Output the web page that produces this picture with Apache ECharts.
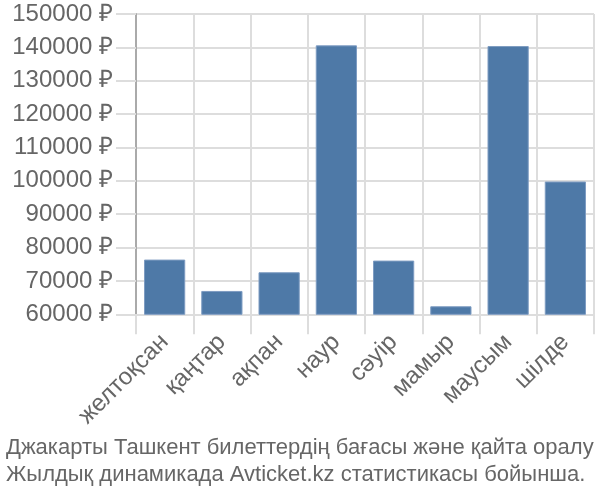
<!DOCTYPE html>
<html>
<head>
<meta charset="utf-8">
<script src="https://cdn.jsdelivr.net/npm/echarts@6/dist/echarts.min.js"></script>
<style>html,body{margin:0;padding:0;background:#fff}#c{width:600px;height:500px}</style>
</head>
<body>
<div id="c"></div>
<script>
var categories = ['желтоқсан', 'қаңтар', 'ақпан', 'наур', 'сәуір', 'мамыр', 'маусым', 'шілде'];
var prices = [76400, 67000, 72600, 140600, 76100, 62400, 140400, 99800];
var titleLines = ['Джакарты Ташкент билеттердің бағасы және қайта оралу', 'Жылдық динамикада Avticket.kz статистикасы бойынша.'];

var chart = echarts.init(document.getElementById('c'), null, {renderer: 'canvas'});
var font = 'Liberation Sans, Arial, sans-serif';
chart.setOption({
  animation: false,
  title: {
    text: titleLines.join('\n'),
    left: 1, top: 429,
    textStyle: {fontFamily: font, fontSize: 22, fontWeight: 'normal', color: '#666', lineHeight: 27}
  },
  grid: {left: 136, right: 6, top: 14, bottom: 185.7},
  xAxis: {
    type: 'category',
    data: categories,
    axisLine: {show: true, lineStyle: {color: '#ddd', width: 2}},
    axisTick: {show: true, length: 20, lineStyle: {color: '#ddd', width: 2}},
    splitLine: {show: true, lineStyle: {color: '#ddd', width: 2}},
    axisLabel: {rotate: 45, margin: 24, fontFamily: font, fontSize: 24, color: '#666', interval: 0}
  },
  yAxis: {
    type: 'value',
    min: 60000, max: 150000, interval: 10000,
    axisLine: {show: true, lineStyle: {color: '#aaa', width: 2}},
    axisTick: {show: true, length: 20, lineStyle: {color: '#ddd', width: 2}},
    splitLine: {show: true, lineStyle: {color: '#ddd', width: 2}},
    axisLabel: {margin: 23, fontFamily: font, fontSize: 24, color: '#666', formatter: function (v) { return v + ' ₽'; }}
  },
  series: [{
    type: 'bar',
    data: prices,
    barCategoryGap: '28%',
    itemStyle: {color: '#4e79a7', borderColor: '#7e9cc2', borderWidth: 1}
  }]
});
</script>
</body>
</html>
